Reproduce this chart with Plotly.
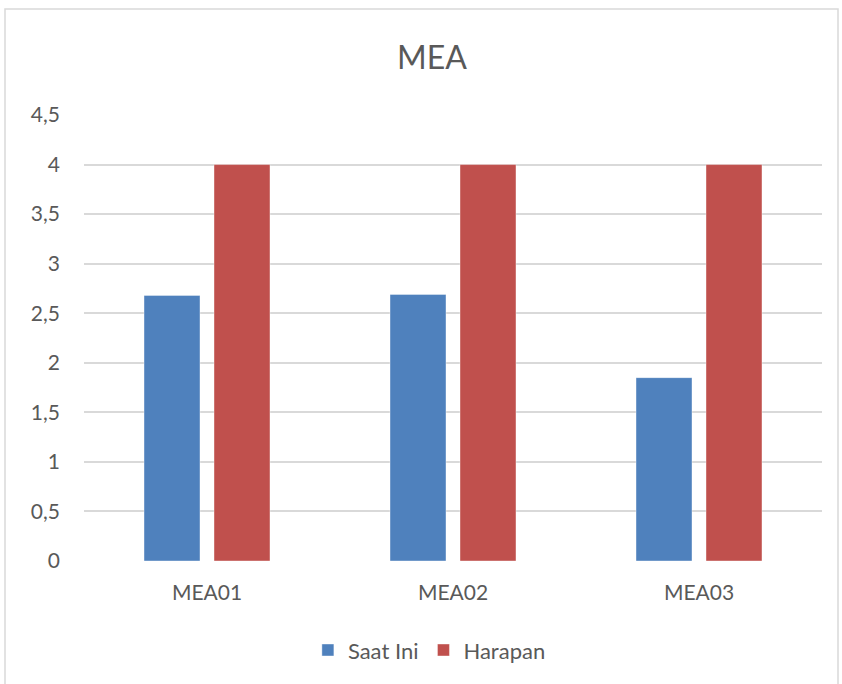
import plotly.graph_objects as go

categories = ["MEA01", "MEA02", "MEA03"]
saat_ini = [2.68, 2.69, 1.85]
harapan = [4, 4, 4]

font_family = "Lato, 'Open Sans', sans-serif"
text_color = "#595959"

fig = go.Figure()
fig.add_trace(go.Bar(x=categories, y=saat_ini, name="Saat Ini",
                     marker=dict(color="#4F81BD", line=dict(color="rgba(255,255,255,0.4)", width=1))))
fig.add_trace(go.Bar(x=categories, y=harapan, name="Harapan",
                     marker=dict(color="#C0504D", line=dict(color="rgba(255,255,255,0.4)", width=1))))

fig.update_layout(
    width=842, height=684,
    margin=dict(l=84, r=20, t=115, b=123),
    paper_bgcolor="white", plot_bgcolor="white",
    separators=",.",
    barmode="group", bargap=0.431, bargroupgap=0.2,
    font=dict(family=font_family, size=21, color=text_color),
    title=dict(text="MEA", x=432 / 842, xanchor="center", y=1 - 58 / 684, yanchor="middle",
               font=dict(size=32, color=text_color, family=font_family)),
    showlegend=True,
    legend=dict(orientation="h", x=0.468, xanchor="center", y=-0.2, yanchor="middle",
                font=dict(size=22, color=text_color), itemwidth=30, traceorder="normal"),
    xaxis=dict(showgrid=False, showline=False, zeroline=False, ticks="",
               ticklabelstandoff=17, tickfont=dict(size=21, color=text_color)),
    yaxis=dict(range=[0, 4.5], dtick=0.5, tick0=0, showgrid=True, gridcolor="#d9d9d9",
               gridwidth=1.5, zeroline=False, showline=False, ticks="",
               ticklabelstandoff=23, tickfont=dict(size=21, color=text_color)),
)

# outer chart border
x0 = (5 - 84) / 738
x1 = (838 - 84) / 738
y_top = (560.7 - 9) / 445.7
y_bot = (560.7 - 700) / 445.7
fig.add_shape(type="rect", xref="paper", yref="paper", x0=x0, x1=x1, y0=y_bot, y1=y_top,
              line=dict(color="#d9d9d9", width=1.5), fillcolor="rgba(0,0,0,0)", layer="below")

fig.write_html("out.html")
